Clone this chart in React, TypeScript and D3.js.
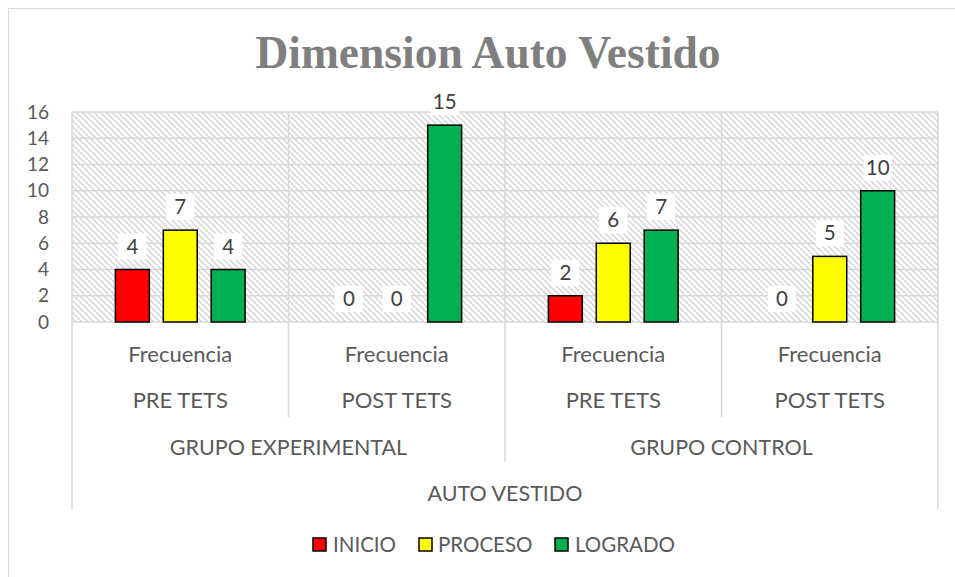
import * as d3 from 'd3';

const categories = ['Frecuencia', 'Frecuencia', 'Frecuencia', 'Frecuencia'];
const tests = ['PRE TETS', 'POST TETS', 'PRE TETS', 'POST TETS'];
const groups = ['GRUPO EXPERIMENTAL', 'GRUPO CONTROL'];
const dimension = 'AUTO VESTIDO';
const seriesNames = ['INICIO', 'PROCESO', 'LOGRADO'];
const inicio = [4, 0, 2, 0];
const proceso = [7, 0, 6, 5];
const logrado = [4, 15, 7, 10];
const colors = ['#FF0000', '#FFFF00', '#00B050'];

const W = 955;
const H = 577;
const plot = { left: 72, right: 938, top: 112, bottom: 322 };
const textColor = '#595959';
const gridColor = '#D9D9D9';
const font = 'Lato, "Open Sans", sans-serif';

export default function App() {
  const values = [inicio, proceso, logrado];

  const x = d3.scaleBand<number>()
    .domain(d3.range(categories.length))
    .range([plot.left, plot.right])
    .padding(0);

  const xInner = d3.scaleBand<number>()
    .domain(d3.range(seriesNames.length))
    .range([0, x.bandwidth()])
    .paddingInner(0.2917)
    .paddingOuter(0.906);

  const y = d3.scaleLinear().domain([0, 16]).range([plot.bottom, plot.top]);
  const yTicks = y.ticks(8);

  // how far each separator line drops below the axis
  const sepDepth = (i: number) => {
    if (i === 0 || i === categories.length) return 509;
    if (i === categories.length / 2) return 462;
    return 417;
  };

  const legendItems = [
    { x: 313, textX: 333 },
    { x: 419, textX: 438 },
    { x: 555, textX: 575 },
  ];

  return (
    <div style={{ position: 'absolute', left: 0, top: 0 }}>
      <svg width={W} height={H} style={{ display: 'block', background: '#fff' }}>
        <defs>
          <pattern id="hatch" patternUnits="userSpaceOnUse" width={6} height={6}>
            <rect width={6} height={6} fill="#fff" />
            <path d="M-1,-1 L7,7 M-1,5 L1,7 M5,-1 L7,1" stroke="#D4D4D4" strokeWidth={1.4} />
          </pattern>
        </defs>

        <rect x={8.5} y={8.5} width={970} height={600} fill="#fff" stroke={gridColor} strokeWidth={1} />

        <text
          x={488}
          y={68}
          textAnchor="middle"
          fontFamily='"Liberation Serif", serif'
          fontWeight="bold"
          fontSize={45.5}
          fill="#7F7F7F"
        >
          Dimension Auto Vestido
        </text>

        <rect
          x={plot.left}
          y={plot.top}
          width={plot.right - plot.left}
          height={plot.bottom - plot.top}
          fill="url(#hatch)"
        />

        {yTicks.map((t) => (
          <line
            key={'g' + t}
            x1={plot.left}
            x2={plot.right}
            y1={y(t)}
            y2={y(t)}
            stroke={gridColor}
            strokeWidth={1.5}
          />
        ))}

        {d3.range(categories.length + 1).map((i) => {
          const xx = i < categories.length ? x(i)! : plot.right;
          return (
            <line
              key={'s' + i}
              x1={xx}
              x2={xx}
              y1={plot.top}
              y2={sepDepth(i)}
              stroke={gridColor}
              strokeWidth={1.5}
            />
          );
        })}

        {yTicks.map((t) => (
          <text
            key={'t' + t}
            x={49}
            y={y(t) + 6.5}
            textAnchor="end"
            fontFamily={font}
            fontSize={19}
            fill={textColor}
          >
            {t}
          </text>
        ))}

        {categories.map((c, ci) =>
          values.map((vals, si) => {
            const v = vals[ci];
            const bx = x(ci)! + xInner(si)!;
            const bw = xInner.bandwidth();
            const cx = bx + bw / 2;
            const ly = y(v) - 16;
            return (
              <g key={`b${ci}-${si}`}>
                {v > 0 && (
                  <rect
                    x={bx}
                    y={y(v)}
                    width={bw}
                    height={y(0) - y(v)}
                    fill={colors[si]}
                    stroke="#000"
                    strokeWidth={1.5}
                  />
                )}
                <rect x={cx - 14} y={ly - 20} width={28} height={26} fill="#fff" />
                <text
                  x={cx}
                  y={ly}
                  textAnchor="middle"
                  fontFamily={font}
                  fontSize={20.5}
                  fill="#404040"
                >
                  {v}
                </text>
              </g>
            );
          })
        )}

        {categories.map((c, ci) => (
          <g key={'c' + ci} fontFamily={font} fontSize={22} fill={textColor} textAnchor="middle">
            <text x={x(ci)! + x.bandwidth() / 2} y={362}>
              {c}
            </text>
            <text x={x(ci)! + x.bandwidth() / 2} y={408}>
              {tests[ci]}
            </text>
          </g>
        ))}

        {groups.map((g, gi) => (
          <text
            key={'gr' + gi}
            x={x(gi * 2)! + x.bandwidth()}
            y={455}
            textAnchor="middle"
            fontFamily={font}
            fontSize={21.5}
            fill={textColor}
          >
            {g}
          </text>
        ))}

        <text
          x={(plot.left + plot.right) / 2}
          y={501}
          textAnchor="middle"
          fontFamily={font}
          fontSize={21.5}
          fill={textColor}
        >
          {dimension}
        </text>

        {seriesNames.map((s, si) => (
          <g key={'l' + si}>
            <rect
              x={legendItems[si].x}
              y={538}
              width={13}
              height={13}
              fill={colors[si]}
              stroke="#000"
              strokeWidth={1.5}
            />
            <text
              x={legendItems[si].textX}
              y={552}
              fontFamily={font}
              fontSize={20.5}
              fill={textColor}
            >
              {s}
            </text>
          </g>
        ))}
      </svg>
    </div>
  );
}
